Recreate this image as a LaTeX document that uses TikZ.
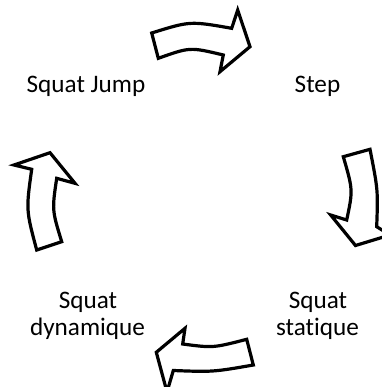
\documentclass[tikz,border=0pt]{standalone}
\usepackage{fontspec}
\setmainfont{Carlito}[Ligatures={NoCommon}]
\begin{document}
\begin{tikzpicture}[x=0.5pt,y=-0.5pt,
  arrowshape/.style={draw=black,fill=white,line width=1.6pt,line join=miter},
  lbl/.style={font=\fontsize{12.6}{15}\selectfont,anchor=base,inner sep=0pt}]
\useasboundingbox (0,0) rectangle (382,387);
\clip (0,0) rectangle (382,387);
% top arrow
\draw[arrowshape] (151.7,33) .. controls (190,21) .. (231.7,28.3) -- (237.7,10) -- (250,46.7) -- (220,71.7) -- (223.3,55) .. controls (190,47) .. (158.3,58.3) -- cycle;
% right arrow
\draw[arrowshape] (343.3,156.7) -- (370,149.3) .. controls (378,190) .. (376.7,226.7) -- (390,235) -- (355.5,245.5) -- (330.7,215) -- (346.7,220) .. controls (353,190) .. cycle;
% bottom arrow
\draw[arrowshape] (246.7,339.3) -- (253.3,365) .. controls (213,372) .. (173.3,370.5) -- (167,392) -- (156.3,352.3) -- (185,328.3) -- (182.7,344) .. controls (213,348) .. cycle;
% left arrow
\draw[arrowshape] (36.7,250) -- (61.7,241.7) .. controls (52,210) .. (56.7,178.3) -- (75,183.3) -- (50,152.7) -- (14,165) -- (31.7,169.3) .. controls (26,210) .. cycle;
% labels
\node[lbl] (jump) at (86,92) {Squat Jump};
\node[lbl] (step) at (317.5,92) {Step};
\node[lbl] (dyn1) at (88,308) {Squat};
\node[lbl] (dyn2) at (87.5,335) {dynamique};
\node[lbl] (sta1) at (318,308) {Squat};
\node[lbl] (sta2) at (317.5,335) {statique};
\end{tikzpicture}
\end{document}
